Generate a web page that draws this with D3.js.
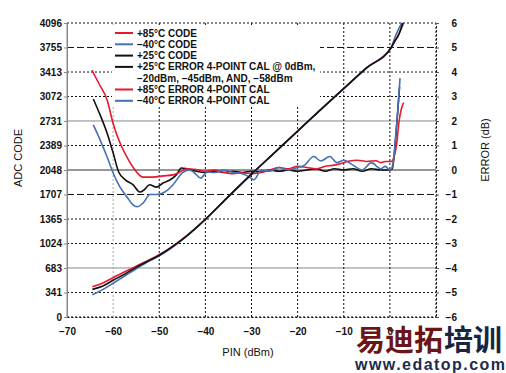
<!DOCTYPE html>
<html>
<head>
<meta charset="utf-8">
<script src="https://cdn.jsdelivr.net/npm/d3@7"></script>
<style>
  body { margin: 0; background: #fff; }
  svg { display: block; font-family: "Liberation Sans", Arial, sans-serif; }
  .tick text { font-size: 10px; font-weight: bold; fill: #111; }
</style>
</head>
<body>
<svg id="chart" width="506" height="373"></svg>
<script>
// axis ticks
const xTicks = [-70, -60, -50, -40, -30, -20, -10, 0, 10];
const xTickLabels = ["\u221270", "\u221260", "\u221250", "\u221240", "\u221230", "\u221220", "\u221210", "0", ""];
const codeTicks = [0, 341, 683, 1024, 1365, 1707, 2048, 2389, 2731, 3072, 3413, 3755, 4096];
const errTicks = [-6, -5, -4, -3, -2, -1, 0, 1, 2, 3, 4, 5, 6];

// ADC code vs PIN (dBm)
const codeRed = [[-64.5, 420], [-62, 480], [-60, 548], [-57, 645], [-55, 708], [-52, 800], [-50, 868], [-45, 1085],
  [-40, 1362], [-35, 1680], [-30, 1990], [-25, 2290], [-20, 2590], [-15, 2890], [-10, 3185], [-5, 3475],
  [0.3, 3755], [1, 3830], [2, 3950], [3, 4096]];
const codeBlue = [[-64.5, 310], [-62, 392], [-60, 470], [-57, 592], [-55, 672], [-52, 785], [-50, 852], [-45, 1075],
  [-40, 1358], [-35, 1675], [-30, 1988], [-25, 2288], [-20, 2588], [-15, 2888], [-10, 3182], [-5, 3472],
  [0.3, 3755], [1, 3880], [1.8, 4000], [2.6, 4096]];
const codeBlack = [[-64.5, 385], [-62, 440], [-60, 512], [-57, 615], [-55, 692], [-52, 792], [-50, 860], [-45, 1080],
  [-40, 1360], [-35, 1678], [-30, 1990], [-25, 2290], [-20, 2590], [-15, 2890], [-10, 3183], [-5, 3473],
  [0.3, 3755], [1, 3840], [1.9, 3930], [2.8, 4096]];

// error (dB) vs PIN (dBm), 4-point cal
const errBlack = [[-64.3, 2.9], [-62.8, 2.24], [-61.3, 1.5], [-60, 0.7], [-58.8, -0.08], [-57.3, -0.41], [-55.7, -0.6],
  [-54.2, -0.9], [-53.2, -0.8], [-52.1, -0.6], [-50.6, -0.7], [-49.2, -0.53], [-47.7, -0.41], [-46.3, -0.2],
  [-45.2, 0.08], [-44, 0.05], [-42, -0.05], [-40, -0.1], [-38, -0.05], [-36, -0.1], [-34, -0.05], [-32, -0.1],
  [-30, -0.05], [-28, -0.08], [-26, 0], [-24, -0.05], [-22, 0], [-20, -0.05], [-18, 0], [-16, 0.05], [-14, -0.05],
  [-12, 0.05], [-10, 0], [-8, 0.05], [-6, -0.05], [-4, 0.05], [-2, 0], [0, 0], [0.5, 0.05], [0.9, 0.5],
  [1.3, 1.4], [1.7, 2.4], [2.1, 3.4]];
const errRed = [[-64.6, 4.08], [-63, 3.5], [-61.3, 2.86], [-60, 1.9], [-58.5, 1.1], [-57, 0.53], [-55.7, 0.12],
  [-53.5, -0.29], [-51.4, -0.29], [-49.2, -0.24], [-47, -0.2], [-45.5, -0.08], [-44, 0.05], [-42, 0.02],
  [-40, -0.05], [-38, 0], [-36, -0.1], [-34, -0.15], [-32, -0.12], [-30, -0.15], [-28, -0.1], [-26, 0],
  [-24, 0.1], [-22, 0.05], [-20, 0.15], [-18, 0.1], [-16, 0.05], [-14, 0.15], [-12, 0.2], [-10, 0.3],
  [-9, 0.36], [-7, 0.4], [-5, 0.35], [-3, 0.38], [-2, 0.3], [-1, 0.35], [0.3, 0.35], [1, 0.6], [1.5, 1.1],
  [2, 2], [2.5, 2.5], [3, 2.75]];
const errBlue = [[-64.3, 1.84], [-62.8, 1.22], [-61.3, 0.53], [-60, -0.12], [-58.5, -0.7], [-57, -1.1],
  [-55.8, -1.4], [-54.8, -1.5], [-53.5, -1.35], [-52, -1], [-50.5, -1], [-48.8, -0.9], [-47, -0.6], [-45, -0.12],
  [-43.5, 0], [-42.6, -0.08], [-41, -0.33], [-39.6, -0.08], [-38, -0.1], [-36, 0], [-34, -0.1], [-32, -0.15],
  [-30.5, -0.28], [-29.5, -0.4], [-27.8, 0], [-26, -0.05], [-24, 0.1], [-22, 0], [-20, 0.1], [-18.5, 0.2],
  [-16.5, 0.55], [-15, 0.37], [-13, 0.55], [-11.5, 0.3], [-10, 0.4], [-8, 0.2], [-6, 0], [-4, 0.3], [-2, 0.05],
  [-1, 0.15], [0, 0], [0.46, 0.1], [0.9, 0.6], [1.3, 1.5], [1.75, 2.5], [2.2, 3.75]];

const legendLabels = [
  ["+85\u00b0C CODE"],
  ["\u221240\u00b0C CODE"],
  ["+25\u00b0C CODE"],
  ["+25\u00b0C ERROR 4-POINT CAL @ 0dBm,", "\u221220dBm, \u221245dBm, AND, \u221258dBm"],
  ["+85\u00b0C ERROR 4-POINT CAL"],
  ["\u221240\u00b0C ERROR 4-POINT CAL"]
];

const RED = "#e8182f", BLUE = "#4471b3", BLACK = "#111";
const legendColors = [RED, BLUE, BLACK, BLACK, RED, BLUE];

const svg = d3.select("#chart");
const mLeft = 67, mRight = 436, mTop = 23, mBottom = 317;

const x = d3.scaleLinear().domain([-70, 10]).range([mLeft, mRight]);
const yCode = d3.scaleLinear().domain([0, 4096]).range([mBottom, mTop]);
const yErr = d3.scaleLinear().domain([-6, 6]).range([mBottom, mTop]);

// grid
function hStyle(v) {
  if (v === 3755 || v === 1707) return {c: "#111", d: "7,3", w: 1};
  if (v === 2048) return {c: "#333", d: null, w: 1.2};
  if (v === 2731 || v === 683) return {c: "#888", d: null, w: 1};
  return {c: "#111", d: "2,2", w: 1};
}
const grid = svg.append("g");
codeTicks.forEach(v => {
  const s = hStyle(v);
  grid.append("line")
      .attr("x1", mLeft).attr("x2", mRight)
      .attr("y1", yCode(v)).attr("y2", yCode(v))
      .attr("stroke", s.c).attr("stroke-width", s.w)
      .attr("stroke-dasharray", s.d);
});
xTicks.forEach(v => {
  grid.append("line")
      .attr("x1", x(v)).attr("x2", x(v))
      .attr("y1", mTop).attr("y2", mBottom)
      .attr("stroke", v === -60 ? "#aaa" : (v === -70 ? "#888" : "#111"))
      .attr("stroke-width", 1)
      .attr("stroke-dasharray", v === -70 ? null : "2,2");
});

// legend box covers grid
const lg = svg.append("g");
lg.append("rect").attr("x", 112).attr("y", 27).attr("width", 208).attr("height", 80).attr("fill", "#fff");
let ly = 33;
legendLabels.forEach((lines, i) => {
  lg.append("line").attr("x1", 115).attr("x2", 133).attr("y1", ly).attr("y2", ly)
      .attr("stroke", legendColors[i]).attr("stroke-width", 2);
  lines.forEach((t, j) => {
    lg.append("text").attr("x", 137).attr("y", ly + j * 11.5).attr("dy", "0.35em")
        .attr("font-size", 10).attr("font-weight", "bold").attr("fill", "#111").text(t);
  });
  ly += 11.3 * lines.length;
});

// curves
const lineCode = d3.line().x(d => x(d[0])).y(d => yCode(d[1])).curve(d3.curveMonotoneX);
const lineErr = d3.line().x(d => x(d[0])).y(d => yErr(d[1])).curve(d3.curveMonotoneX);
const plot = svg.append("g").attr("fill", "none").attr("stroke-width", 1.6).attr("stroke-linejoin", "round");
[[errBlack, BLACK], [errRed, RED], [errBlue, BLUE]].forEach(([d, c]) => {
  plot.append("path").attr("d", lineErr(d)).attr("stroke", c);
});
[[codeRed, RED], [codeBlue, BLUE], [codeBlack, BLACK]].forEach(([d, c]) => {
  plot.append("path").attr("d", lineCode(d)).attr("stroke", c);
});

// axes
svg.append("g").attr("transform", `translate(${mLeft},0)`)
    .call(d3.axisLeft(yCode).tickValues(codeTicks).tickSize(3).tickPadding(2).tickFormat(d => d))
    .call(g => g.select(".domain").attr("stroke", "#888"))
    .call(g => g.selectAll(".tick line").attr("stroke", "#888"));
svg.append("g").attr("transform", `translate(${mRight},0)`)
    .call(d3.axisRight(yErr).tickValues(errTicks).tickSize(3).tickPadding(6)
        .tickFormat(d => d < 0 ? "\u2212" + Math.abs(d) : d))
    .call(g => g.select(".domain").attr("stroke", "#111").attr("stroke-dasharray", "2,2"))
    .call(g => g.selectAll(".tick line").attr("stroke", "#555"))
    .call(g => g.selectAll(".tick text").attr("text-anchor", "end").attr("x", 21));
svg.append("g").attr("transform", `translate(0,${mBottom})`)
    .call(d3.axisBottom(x).tickValues(xTicks).tickSize(0).tickPadding(11)
        .tickFormat((d, i) => xTickLabels[i]))
    .call(g => g.select(".domain").attr("stroke", "#111").attr("stroke-dasharray", "2,2"));

// axis titles
svg.append("text").attr("transform", "translate(22,158) rotate(-90)").attr("text-anchor", "middle")
    .attr("font-size", 11).attr("fill", "#111").text("ADC CODE");
svg.append("text").attr("transform", "translate(489,150) rotate(-90)").attr("text-anchor", "middle")
    .attr("font-size", 11).attr("fill", "#111").text("ERROR (dB)");
svg.append("text").attr("x", 248).attr("y", 356).attr("text-anchor", "middle")
    .attr("font-size", 11).attr("fill", "#111").text("PIN (dBm)");

// watermark
const wm = svg.append("g").attr("font-family", "'Noto Sans CJK SC', sans-serif").attr("font-weight", "bold");
wm.append("text").attr("x", 356).attr("y", 351).attr("font-size", 29).attr("fill", "#6a1616").text("易迪拓");
wm.append("text").attr("x", 444).attr("y", 351).attr("font-size", 29).attr("fill", "#172640").text("培训");
wm.append("text").attr("x", 355).attr("y", 370).attr("font-size", 16).attr("fill", "#1d2c4c")
    .attr("font-family", "'Liberation Sans', Arial, sans-serif").attr("textLength", 150).text("www.edatop.com");
</script>
</body>
</html>
